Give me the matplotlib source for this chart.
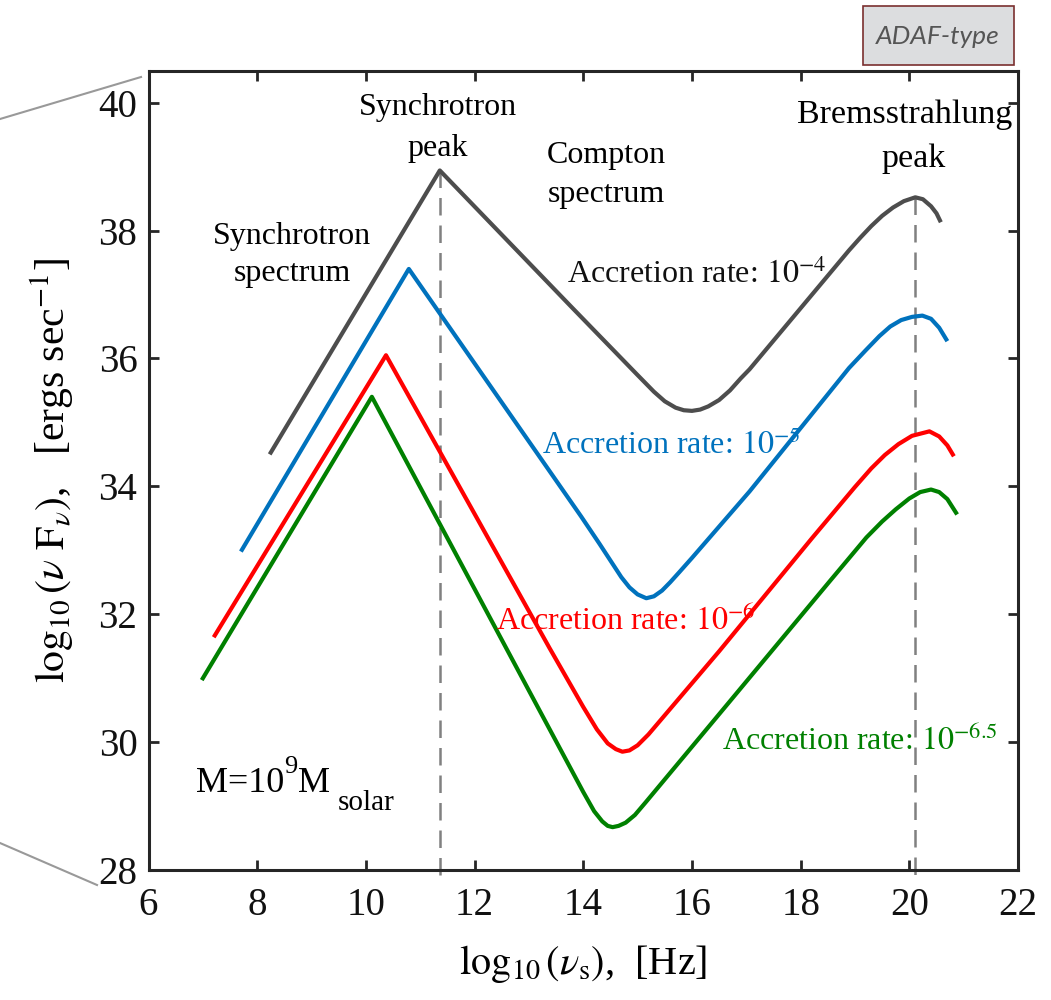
import matplotlib
matplotlib.use("Agg")
import matplotlib.pyplot as plt
from matplotlib.patches import Rectangle
from matplotlib.lines import Line2D

plt.rcParams['font.family'] = ['Liberation Serif', 'DejaVu Serif']
plt.rcParams['mathtext.fontset'] = 'stix'

# Spectra: log10(nu) [Hz] vs log10(nu F_nu)
x_1e4 = [8.23, 11.36, 13.80, 15.00, 15.30, 15.50, 15.70, 15.85, 16.00, 16.15, 16.30, 16.50, 16.70, 16.90, 17.06,
         18.89, 19.10, 19.30, 19.50, 19.70, 19.90, 20.11, 20.25, 20.40, 20.50, 20.58]
y_1e4 = [34.50, 38.94, 36.79, 35.74, 35.48, 35.33, 35.23, 35.19, 35.18, 35.20, 35.25, 35.35, 35.50, 35.69, 35.83,
         37.69, 37.89, 38.07, 38.23, 38.36, 38.46, 38.52, 38.49, 38.38, 38.27, 38.13]

x_1e5 = [7.70, 10.79, 13.96, 14.30, 14.50, 14.70, 14.85, 15.00, 15.16, 15.30, 15.45, 15.60, 15.77, 16.00,
         17.06, 18.89, 19.20, 19.45, 19.65, 19.85, 20.05, 20.24, 20.40, 20.55, 20.70]
y_1e5 = [32.98, 37.40, 33.53, 33.10, 32.84, 32.58, 32.42, 32.31, 32.25, 32.28, 32.37, 32.50, 32.66, 32.88,
         33.92, 35.85, 36.13, 36.35, 36.50, 36.60, 36.65, 36.67, 36.62, 36.48, 36.27]

x_1e6 = [7.20, 10.37, 13.38, 14.00, 14.25, 14.45, 14.60, 14.72, 14.85, 15.00, 15.20, 15.40, 15.60,
         16.50, 18.21, 19.00, 19.30, 19.55, 19.80, 20.05, 20.37, 20.55, 20.70, 20.82]
y_1e6 = [31.64, 36.05, 31.47, 30.55, 30.20, 29.98, 29.89, 29.85, 29.87, 29.95, 30.12, 30.32, 30.52,
         31.42, 33.19, 33.99, 34.28, 34.49, 34.66, 34.79, 34.86, 34.78, 34.64, 34.47]

x_1e65 = [6.98, 10.11, 13.01, 14.00, 14.20, 14.35, 14.45, 14.54, 14.65, 14.78, 14.95, 15.15,
          16.69, 18.53, 19.21, 19.50, 19.75, 20.00, 20.20, 20.40, 20.55, 20.70, 20.88]
y_1e65 = [30.97, 35.40, 30.79, 29.22, 28.92, 28.76, 28.69, 28.67, 28.69, 28.74, 28.86, 29.06,
          30.63, 32.51, 33.20, 33.45, 33.64, 33.81, 33.91, 33.95, 33.91, 33.80, 33.56]

series = [
    (x_1e4, y_1e4, '#4d4d4d'),
    (x_1e5, y_1e5, '#0072bd'),
    (x_1e6, y_1e6, '#ff0000'),
    (x_1e65, y_1e65, '#008000'),
]

# peak markers (synchrotron peak, bremsstrahlung peak)
peak_x = [11.36, 20.11]
peak_top = [38.94, 38.52]
axis_bottom = 27.82

fig = plt.figure(figsize=(10.51, 10), dpi=100)
ax = fig.add_axes([0.1413, 0.13, 0.8273, 0.7993])

for xs, ys, c in series:
    ax.plot(xs, ys, color=c, lw=3.0, solid_joinstyle='round', solid_capstyle='butt')

for px, pt in zip(peak_x, peak_top):
    ax.plot([px, px], [pt, axis_bottom], color='#808080', lw=1.8,
            linestyle=(0, (7, 4)), clip_on=False, zorder=1)

ax.set_xlim(6, 22)
ax.set_ylim(28, 40.5)
ax.set_xticks(range(6, 23, 2))
ax.set_yticks(range(28, 41, 2))
ax.tick_params(direction='in', length=7, width=2, top=True, right=True,
               labelsize=28, color='#262626', labelcolor='#111111')
ax.tick_params(axis='x', pad=12)
ax.tick_params(axis='y', pad=8)
for sp in ax.spines.values():
    sp.set_linewidth(2.2)
    sp.set_color('#262626')

ax.set_xlabel(r'$\log_{10}(\nu_{\rm s})$,  [Hz]', fontsize=29, labelpad=14)
ax.set_ylabel(r'$\log_{10}(\nu\ \mathrm{F}_{\nu})$,   [ergs sec$^{-1}$]', fontsize=30, labelpad=16)

# annotations
fs = 23
ax.text(8.64, 37.79, 'Synchrotron', fontsize=fs, ha='center', va='baseline')
ax.text(8.64, 37.21, 'spectrum', fontsize=fs, ha='center', va='baseline')
ax.text(11.33, 39.80, 'Synchrotron', fontsize=fs, ha='center', va='baseline')
ax.text(11.33, 39.17, 'peak', fontsize=fs, ha='center', va='baseline')
ax.text(14.43, 39.06, 'Compton', fontsize=fs, ha='center', va='baseline')
ax.text(14.43, 38.44, 'spectrum', fontsize=fs, ha='center', va='baseline')
ax.text(19.92, 39.68, 'Bremsstrahlung', fontsize=24.5, ha='center', va='baseline', clip_on=False)
ax.text(20.08, 38.99, 'peak', fontsize=24.5, ha='center', va='baseline')

ax.text(13.71, 37.18, r'Accretion rate: $10^{-4}$', fontsize=fs, color='#111111', ha='left', va='baseline')
ax.text(13.25, 34.50, r'Accretion rate: $10^{-5}$', fontsize=fs, color='#0072bd', ha='left', va='baseline')
ax.text(12.39, 31.76, r'Accretion rate: $10^{-6}$', fontsize=fs, color='#ff0000', ha='left', va='baseline')
ax.text(16.56, 29.88, r'Accretion rate: $10^{-6.5}$', fontsize=fs, color='#008000', ha='left', va='baseline')

# M=10^9 M_solar, built in pieces so the sub/superscripts keep their size
ax.text(6.88, 29.22, 'M=10', fontsize=26, ha='left', va='baseline')
ax.text(8.50, 29.51, '9', fontsize=19, ha='left', va='baseline')
ax.text(8.76, 29.22, 'M', fontsize=26, ha='left', va='baseline')
ax.text(9.48, 28.94, 'solar', fontsize=21, ha='left', va='baseline')

# zoom-in guide lines on the left edge
fig.add_artist(Line2D([0, 141 / 1051], [1 - 119 / 1000, 1 - 77 / 1000], color='#999999', lw=1.5))
fig.add_artist(Line2D([0, 97 / 1051], [1 - 843 / 1000, 1 - 885 / 1000], color='#999999', lw=1.5))

# ADAF-type tag
fig.add_artist(Rectangle((863 / 1051, 1 - 65 / 1000), 151 / 1051, 59 / 1000,
                         facecolor='#dcdddf', edgecolor='#7a2f2f', lw=1.2))
fig.text(938 / 1051, 1 - 37 / 1000, 'ADAF-type', fontsize=19, style='italic',
         family='Lato', color='#555555', ha='center', va='center')

fig.savefig('out.png', dpi=100)
